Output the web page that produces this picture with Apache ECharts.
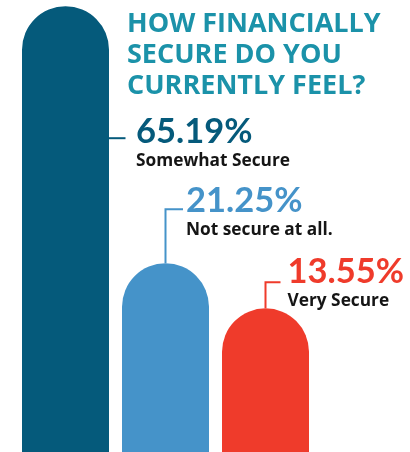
<!DOCTYPE html>
<html style="height: 100%">
<head>
    <meta charset="utf-8">
    <script src="https://cdn.jsdelivr.net/npm/echarts@6/dist/echarts.min.js"></script>
</head>
<body style="margin:0; height: 452px; width: 410px; background-color: #ffffff;">
    <div id="container" style="height: 452px; width: 410px"></div>
    <script type="text/javascript">
        // survey answers
        var categories = ['Somewhat Secure', 'Not secure at all.', 'Very Secure'];
        var shares = [65.19, 21.25, 13.55];
        var valueLabels = ['65.19%', '21.25%', '13.55%'];

        var barColors = ['#055a7b', '#4593c9', '#ef3b2b'];
        var yMin = -11;

        // leader line + label offsets, relative to bar centre / bar top
        var labelLayout = [
            { leader: [[43.5, 132], [60, 132]], tx: 70.5, vy: 126, ny: 155 },
            { leader: [[0, 0], [0, -54], [17.5, -54]], tx: 20.5, vy: -62, ny: -33 },
            { leader: [[0, 0], [0, -26], [15, -26]], tx: 22, vy: -36, ny: -7 }
        ];

        var dom = document.getElementById("container");
        var myChart = echarts.init(dom);

        var option = {
            animation: false,
            title: {
                text: 'HOW FINANCIALLY\nSECURE DO YOU\nCURRENTLY FEEL?',
                left: 127,
                top: 9,
                padding: 0,
                textStyle: {
                    fontFamily: '"Open Sans"',
                    fontWeight: 'bold',
                    fontSize: 27,
                    lineHeight: 31,
                    color: '#1b92a9'
                }
            },
            grid: { left: 15.5, right: 94.5, top: 0, bottom: 0 },
            xAxis: { type: 'category', data: categories, show: false },
            yAxis: { type: 'value', min: yMin, max: 66.25, show: false },
            series: [{
                type: 'custom',
                data: shares.map(function (v, i) { return [i, v]; }),
                renderItem: function (params, api) {
                    var i = params.dataIndex;
                    var pt = api.coord([api.value(0), api.value(1)]);
                    var base = api.coord([api.value(0), yMin])[1];
                    var cx = pt[0], top = pt[1];
                    var w = api.size([1, 0])[0] * 0.87;
                    var lay = labelLayout[i];
                    return {
                        type: 'group',
                        children: [{
                            type: 'rect',
                            shape: { x: cx - w / 2, y: top, width: w, height: base - top, r: [w / 2, w / 2, 0, 0] },
                            style: { fill: barColors[i] }
                        }, {
                            type: 'polyline',
                            shape: { points: lay.leader.map(function (p) { return [cx + p[0], top + p[1]]; }) },
                            style: { stroke: barColors[i], lineWidth: 2, fill: 'none' }
                        }, {
                            type: 'text',
                            x: cx + lay.tx,
                            y: top + lay.vy,
                            style: { text: valueLabels[i], font: 'bold 34.5px Lato', fill: barColors[i], verticalAlign: 'middle' }
                        }, {
                            type: 'text',
                            x: cx + lay.tx,
                            y: top + lay.ny,
                            style: { text: categories[i], font: 'bold 17.3px "Open Sans"', fill: '#151515', verticalAlign: 'middle' }
                        }]
                    };
                }
            }]
        };
        myChart.setOption(option);
    </script>
</body>
</html>
